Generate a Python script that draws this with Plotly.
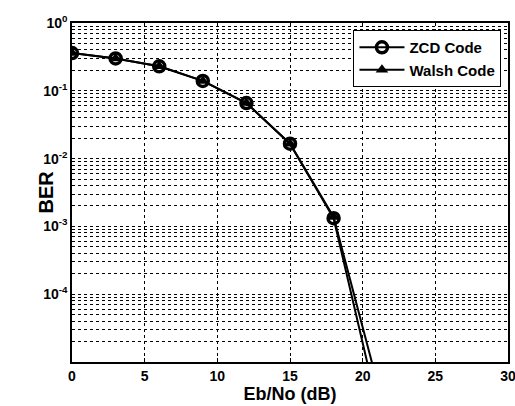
import numpy as np
import plotly.graph_objects as go

ebno = [0, 3, 6, 9, 12, 15, 18, 21]
ber_zcd = [0.36, 0.30, 0.23, 0.14, 0.066, 0.0166, 0.00132, 2.3e-6]
ber_walsh = [0.36, 0.30, 0.23, 0.14, 0.066, 0.0166, 0.00138, 5.0e-6]

x_ticks = [0, 5, 10, 15, 20, 25, 30]
y_decades = [-4, -3, -2, -1, 0]

font = "Liberation Sans, Arial, sans-serif"

fig = go.Figure()
fig.add_trace(go.Scatter(
    x=ebno, y=ber_zcd, mode="lines+markers", name="ZCD Code",
    line=dict(color="black", width=2),
    marker=dict(symbol="circle-open", size=11, color="black", line=dict(width=3.5)),
))
fig.add_trace(go.Scatter(
    x=ebno, y=ber_walsh, mode="lines+markers", name="Walsh Code",
    line=dict(color="black", width=2),
    marker=dict(symbol="triangle-up", size=11, color="black"),
))

tickvals, ticktext = [], []
for k in range(-5, 1):
    for m in range(1, 10):
        v = m * 10.0 ** k
        if v > 1.0:
            break
        tickvals.append(v)
        ticktext.append(f"10<sup>{k}</sup>" if (m == 1 and k in y_decades) else "")

fig.update_layout(
    width=515, height=406,
    margin=dict(l=72, r=7, t=23, b=44),
    paper_bgcolor="white", plot_bgcolor="white",
    showlegend=True,
    legend=dict(
        x=0.985, y=0.979, xanchor="right", yanchor="top",
        bgcolor="white", bordercolor="black", borderwidth=1,
        font=dict(family=font, size=15, color="black", weight="bold"),
        itemwidth=45, tracegroupgap=0,
    ),
    annotations=[dict(
        text="BER", textangle=-90, showarrow=False,
        xref="paper", yref="paper", x=0, y=0.5, xanchor="center", yanchor="middle",
        xshift=-27,
        font=dict(family=font, size=20, color="black", weight="bold"),
    )],
)
fig.update_xaxes(
    range=[0, 30], tickvals=x_ticks, automargin=False, ticklabeloverflow="allow",
    showgrid=True, gridcolor="black", griddash="3px,3px", gridwidth=1,
    showline=True, linecolor="black", linewidth=1.5, mirror=True,
    ticks="inside", ticklen=4, tickcolor="black",
    tickfont=dict(family=font, size=14, color="black", weight="bold"),
    title=dict(text="Eb/No (dB)", font=dict(family=font, size=18, color="black", weight="bold"), standoff=3),
    zeroline=False,
)
fig.update_yaxes(
    type="log", range=[-5.0, 0], automargin=False, ticklabeloverflow="allow",
    tickvals=tickvals, ticktext=ticktext,
    showgrid=True, gridcolor="black", griddash="3px,3px", gridwidth=1,
    showline=True, linecolor="black", linewidth=1.5, mirror=True,
    ticks="",
    tickfont=dict(family=font, size=14, color="black", weight="bold"),
    zeroline=False,
)
fig.write_html(
    "out.html",
    config={"displayModeBar": False},
    post_script="document.body.style.margin='0';document.body.style.overflow='hidden';",
)
